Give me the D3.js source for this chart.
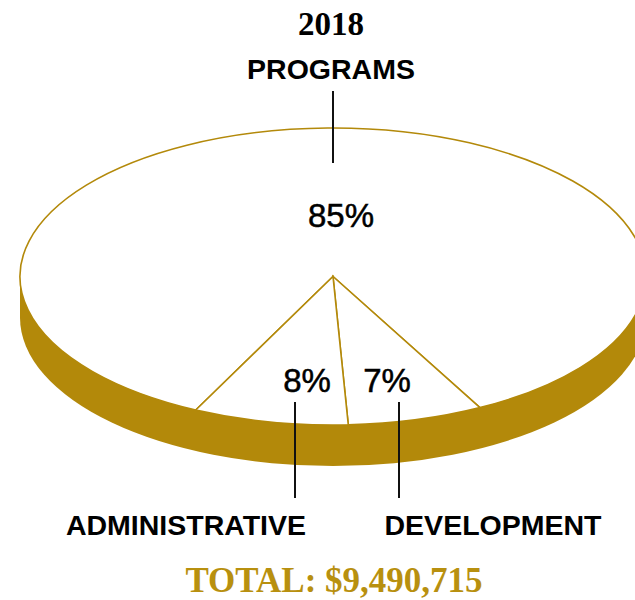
<!DOCTYPE html>
<meta charset="utf-8">
<style type="text/css">
	body {
		margin: 0;
		background: #fff;
	}

	.slice {
		fill: #fff;
		stroke: #b3890a;
		stroke-width: 1.6px;
	}

	.rim {
		fill: #b3890a;
	}

	.leader {
		stroke: #111;
		stroke-width: 2px;
	}

	.pct {
		font-family: "Liberation Sans", Arial, sans-serif;
		font-size: 33px;
		fill: #000;
		stroke: #000;
		stroke-width: 0.5px;
		text-anchor: middle;
	}

	.cat {
		font-family: "Liberation Sans", Arial, sans-serif;
		font-weight: bold;
		font-size: 28.5px;
		fill: #000;
		text-anchor: middle;
	}

	.year {
		font-family: "Liberation Serif", "Times New Roman", serif;
		font-weight: bold;
		font-size: 33px;
		fill: #000;
		text-anchor: middle;
	}

	.total {
		font-family: "Liberation Serif", "Times New Roman", serif;
		font-weight: bold;
		font-size: 35px;
		fill: #b8900f;
		text-anchor: middle;
	}
</style>

<body>
<div class="g-chart"></div>
</body>

<script src="https://d3js.org/d3.v7.min.js"></script>

<script>
  //Data
  var categories = ["PROGRAMS", "DEVELOPMENT", "ADMINISTRATIVE"];
  var shares = [85, 7, 8];
  var year = "2018";
  var total = 9490715;

  var width = 635,
    height = 600;

  //pie geometry (tilted disc)
  var cx = 333, cy = 276.5, rx = 313, ry = 148.5, depth = 41;

  var svg = d3.select(".g-chart").append("svg")
    .attr("width", width)
    .attr("height", height);

  var data = categories.map(function(c, i) { return { name: c, value: shares[i] }; });

  //clockwise from top, programs first, middle split sits just left of bottom
  var pie = d3.pie()
    .sort(null)
    .value(function(d) { return d.value; })
    .startAngle(-154 * Math.PI / 180)
    .endAngle(206 * Math.PI / 180);

  var arcs = pie(data);

  function pt(a) {
    return [cx + rx * Math.sin(a), cy - ry * Math.cos(a)];
  }

  //the rim (side of the disc)
  svg.append("ellipse")
    .attr("class", "rim")
    .attr("cx", cx).attr("cy", cy + depth)
    .attr("rx", rx).attr("ry", ry);
  svg.append("rect")
    .attr("class", "rim")
    .attr("x", cx - rx).attr("y", cy)
    .attr("width", rx * 2).attr("height", depth);

  //top face slices
  svg.selectAll("path.slice")
    .data(arcs)
    .enter()
    .append("path")
    .attr("class", "slice")
    .attr("d", function(d) {
      var p0 = pt(d.startAngle), p1 = pt(d.endAngle);
      var large = (d.endAngle - d.startAngle) > Math.PI ? 1 : 0;
      return "M" + cx + "," + cy + "L" + p0[0] + "," + p0[1] +
        "A" + rx + "," + ry + " 0 " + large + " 1 " + p1[0] + "," + p1[1] + "Z";
    });

  //label layout: percent label pos, leader line, category label
  var layout = {
    "PROGRAMS":       { px: 341, py: 227, lx: 333, l1: 91,  l2: 163, tx: 331, ty: 79 },
    "DEVELOPMENT":    { px: 387, py: 392, lx: 399, l1: 402, l2: 498, tx: 493, ty: 535 },
    "ADMINISTRATIVE": { px: 307, py: 392, lx: 295, l1: 402, l2: 498, tx: 186, ty: 535 }
  };

  var fmtPct = function(v) { return v + "%"; };

  var lab = svg.selectAll("g.lab")
    .data(data)
    .enter()
    .append("g")
    .attr("class", "lab");

  lab.append("text")
    .attr("class", "pct")
    .attr("x", function(d) { return layout[d.name].px; })
    .attr("y", function(d) { return layout[d.name].py; })
    .text(function(d) { return fmtPct(d.value); });

  lab.append("line")
    .attr("class", "leader")
    .attr("x1", function(d) { return layout[d.name].lx; })
    .attr("x2", function(d) { return layout[d.name].lx; })
    .attr("y1", function(d) { return layout[d.name].l1; })
    .attr("y2", function(d) { return layout[d.name].l2; });

  lab.append("text")
    .attr("class", "cat")
    .attr("x", function(d) { return layout[d.name].tx; })
    .attr("y", function(d) { return layout[d.name].ty; })
    .text(function(d) { return d.name; });

  svg.append("text")
    .attr("class", "year")
    .attr("x", 331).attr("y", 35)
    .text(year);

  svg.append("text")
    .attr("class", "total")
    .attr("x", 334).attr("y", 592)
    .text("TOTAL: " + d3.format("$,")(total));
</script>
